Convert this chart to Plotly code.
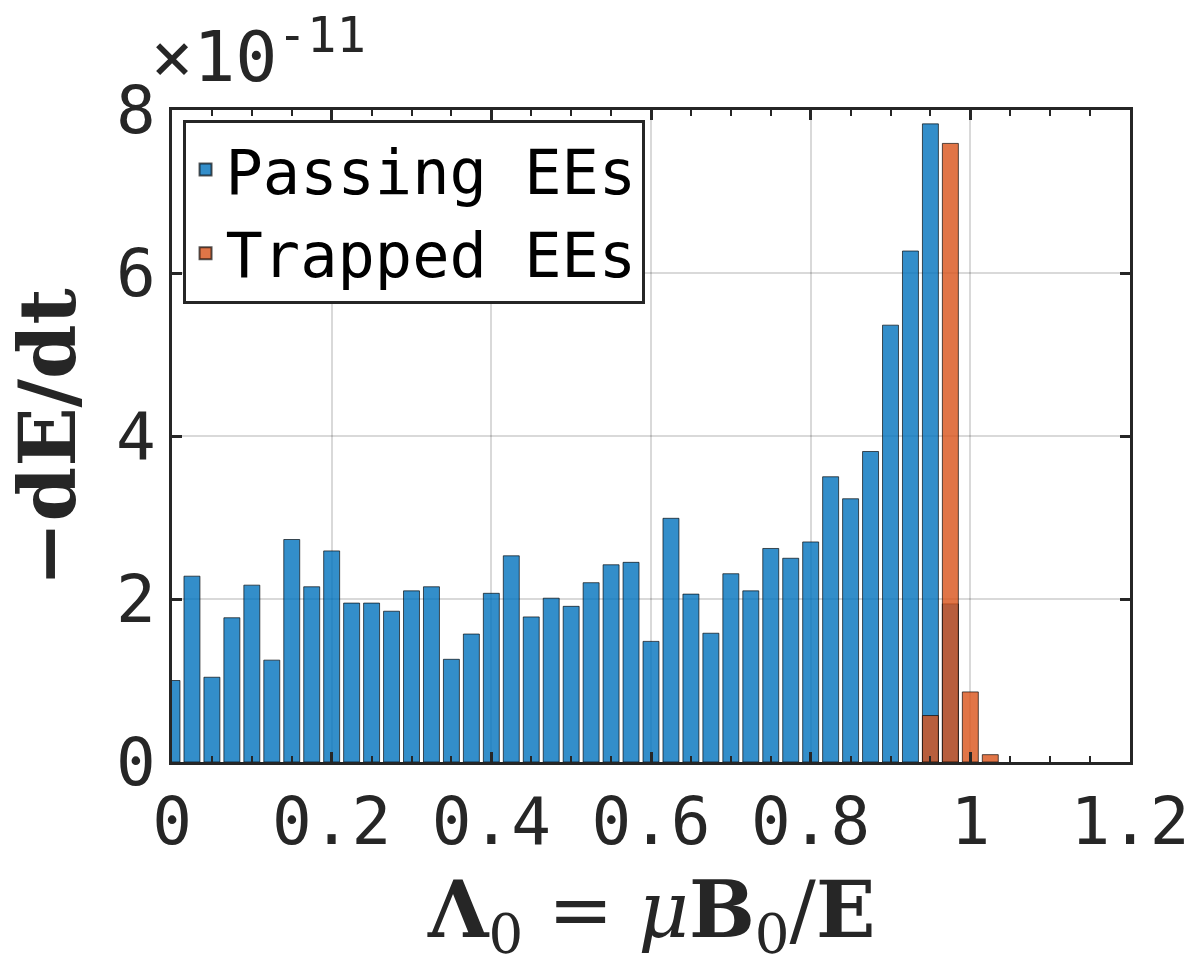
import plotly.graph_objects as go

# Bin centres (Lambda_0) and heights in units of 1e-11
passing_x = [round(0.025 * i, 3) for i in range(40)]
passing_y = [1.00, 2.28, 1.04, 1.77, 2.17, 1.25, 2.73, 2.15, 2.59, 1.95,
             1.95, 1.85, 2.10, 2.15, 1.26, 1.57, 2.07, 2.53, 1.78, 2.01,
             1.91, 2.20, 2.42, 2.45, 1.48, 2.99, 2.06, 1.58, 2.31, 2.10,
             2.62, 2.50, 2.70, 3.50, 3.23, 3.81, 5.36, 6.27, 7.83, 1.94]
trapped_x = [0.95, 0.975, 1.0, 1.025]
trapped_y = [0.57, 7.59, 0.86, 0.09]

x_ticks = [0, 0.2, 0.4, 0.6, 0.8, 1, 1.2]
x_ticklabels = ["0", "0.2", "0.4", "0.6", "0.8", "1", "1.2"]
y_ticks = [0, 2, 4, 6, 8]
y_ticklabels = ["0", "2", "4", "6", "8"]

MONO = "DejaVu Sans Mono"
SERIF = "DejaVu Serif"

fig = go.Figure()
fig.add_trace(go.Bar(
    x=passing_x, y=passing_y, width=0.02, name="Passing EEs",
    marker=dict(color="rgba(0,114,189,0.8)",
                line=dict(color="rgba(0,0,0,0.65)", width=1)),
))
fig.add_trace(go.Bar(
    x=trapped_x, y=trapped_y, width=0.02, name="Trapped EEs",
    marker=dict(color="rgba(217,83,25,0.8)",
                line=dict(color="rgba(0,0,0,0.65)", width=1)),
))

axis_common = dict(
    showline=True, linecolor="#262626", linewidth=3, mirror="ticks",
    ticks="inside", tickcolor="#262626", tickwidth=3, ticklen=10,
    showgrid=True, gridcolor="rgba(0,0,0,0.15)", gridwidth=2,
    zeroline=False, ticklabeloverflow="allow", automargin=False,
    tickfont=dict(family=MONO, size=66, color="#262626"),
)

fig.update_layout(
    width=1190, height=965,
    margin=dict(l=172, r=60, t=110, b=203, autoexpand=False),
    paper_bgcolor="white", plot_bgcolor="white",
    barmode="overlay",
    showlegend=True,
    legend=dict(
        x=0.011, y=0.985, xanchor="left", yanchor="top",
        bordercolor="#262626", borderwidth=3, bgcolor="white",
        font=dict(family=MONO, size=62, color="black"),
        itemsizing="constant", tracegroupgap=0,
    ),
    xaxis=dict(
        range=[0, 1.2], tickvals=x_ticks, ticktext=x_ticklabels,
        minor=dict(dtick=0.05, ticks="inside", ticklen=6, tickcolor="#262626",
                   tickwidth=2, showgrid=False),
        **axis_common,
    ),
    yaxis=dict(
        range=[0, 8], tickvals=y_ticks, ticktext=y_ticklabels,
        **axis_common,
    ),
    annotations=[
        dict(text="×10<sup>-11</sup>", xref="paper", yref="paper",
             x=-0.024, y=1.016, xanchor="left", yanchor="bottom",
             showarrow=False, font=dict(family=MONO, size=70, color="#262626")),
        dict(text="<b>−dE/dt</b>", xref="paper", yref="paper",
             x=-0.13, y=0.498, xanchor="center", yanchor="middle",
             textangle=-90, showarrow=False,
             font=dict(family=SERIF, size=78, color="#262626")),
        dict(text="<b>Λ</b><sub>0</sub> = <i>μ</i><b>B</b><sub>0</sub>/<b>E</b>",
             xref="paper", yref="paper",
             x=0.5, y=-0.235, xanchor="center", yanchor="middle",
             showarrow=False,
             font=dict(family=SERIF, size=78, color="#262626")),
    ],
)

fig.write_html("out.html")
